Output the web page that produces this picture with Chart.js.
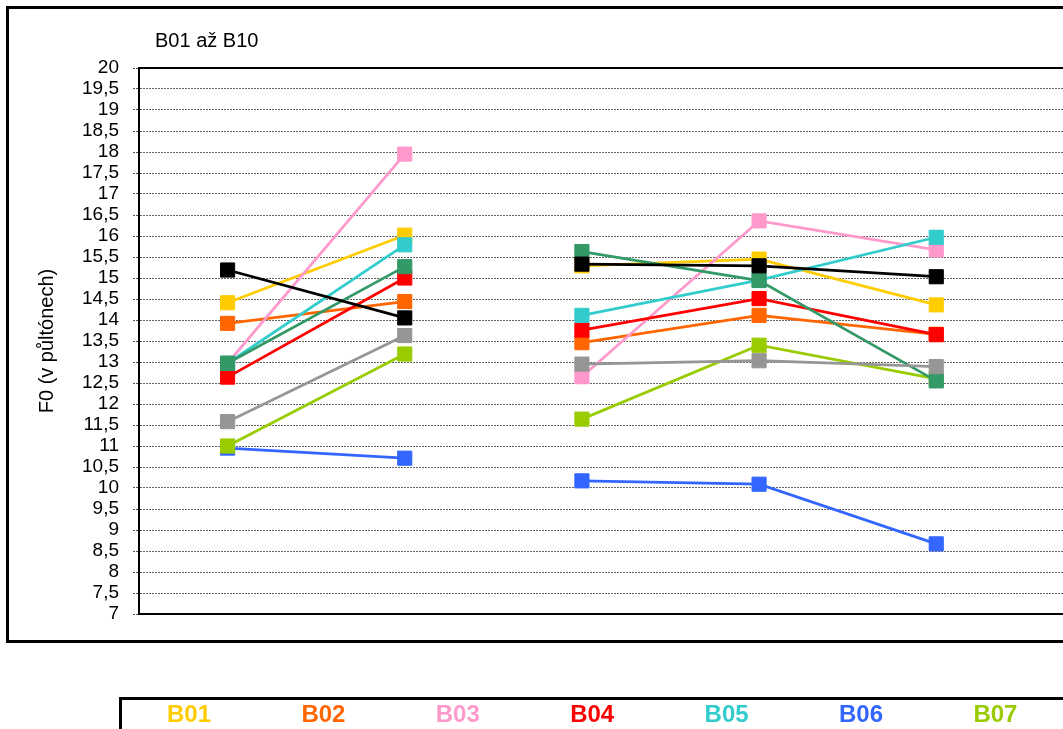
<!DOCTYPE html>
<html>
<head>
<meta charset="utf-8">
<script src="https://cdn.jsdelivr.net/npm/chart.js@4.4.1/dist/chart.umd.min.js"></script>
<style>
  html, body { margin: 0; padding: 0; width: 1063px; height: 729px; overflow: hidden; background: #fff; }
  #frame { position: absolute; left: 6px; top: 6px; width: 1290px; height: 637px; box-sizing: border-box; border: 3px solid #000; }
  #title { position: absolute; left: 155px; top: 30px; font: 20px "Liberation Sans", Arial, sans-serif; line-height: 20px; color: #000; white-space: nowrap; }
  #legendBox { position: absolute; left: 119px; top: 697px; width: 1400px; height: 80px; box-sizing: border-box; border: 3px solid #000; }
  .lg { position: absolute; top: 702px; width: 100px; margin-left: -50px; text-align: center; font: bold 24px "Liberation Sans", Arial, sans-serif; line-height: 24px; white-space: nowrap; }
  #c { position: absolute; left: 0; top: 0; }
</style>
</head>
<body>
<div id="frame"></div>
<canvas id="c" width="1300" height="729"></canvas>
<div id="title">B01 až B10</div>
<div id="legendBox"></div>
<div id="legend"></div>
<script>
const categories = ['1', '2', '3', '4', '5', '6'];
const seriesNames = ['B01', 'B02', 'B03', 'B04', 'B05', 'B06', 'B07', 'B08', 'B09', 'B10'];
const seriesColors = ['#FFCC00', '#FF6600', '#FF99CC', '#FF0000', '#33CCCC', '#3366FF', '#99CC00', '#339966', '#969696', '#000000'];
const B01 = [14.41, 16.02, 15.29, 15.45, 14.36, null];
const B02 = [13.92, 14.44, 13.46, 14.11, 13.66, null];
const B03 = [12.97, 17.95, 12.65, 16.36, 15.67, null];
const B04 = [12.64, 15.0, 13.76, 14.51, 13.65, null];
const B05 = [12.97, 15.79, 14.11, 14.95, 15.97, null];
const B06 = [10.95, 10.71, 10.17, 10.09, 8.67, null];
const B07 = [11.0, 13.19, 11.64, 13.4, 12.6, null];
const B08 = [12.97, 15.27, 15.63, 14.94, 12.55, null];
const B09 = [11.58, 13.63, 12.95, 13.03, 12.89, null];
const B10 = [15.19, 14.05, 15.33, 15.29, 15.03, null];
const seriesValues = [B01, B02, B03, B04, B05, B06, B07, B08, B09, B10];
const yTickMin = 7, yTickMax = 20, yTickStep = 0.5;
const yAxisTitle = 'F0 (v půltónech)';

// legend (HTML text)
const legendEl = document.getElementById('legend');
seriesNames.forEach((n, i) => {
  const d = document.createElement('div');
  d.className = 'lg';
  d.style.left = (189 + 134.4 * i) + 'px';
  d.style.color = seriesColors[i];
  d.textContent = n;
  legendEl.appendChild(d);
});

const FONT = '"Liberation Sans", Arial, sans-serif';

const datasets = seriesValues.map((vals, i) => ({
  label: seriesNames[i],
  data: vals,
  borderColor: seriesColors[i],
  backgroundColor: seriesColors[i],
  borderWidth: 2.75,
  pointStyle: 'rect',
  pointRadius: 10,
  pointBorderWidth: 1,
  pointBorderColor: seriesColors[i],
  pointBackgroundColor: seriesColors[i],
  pointHoverRadius: 10,
  tension: 0,
  order: seriesValues.length - 1 - i,
  segment: {
    borderColor: ctx => ctx.p0DataIndex === 1 ? 'rgba(0,0,0,0)' : undefined
  }
}));

const plotBorder = {
  id: 'plotBorder',
  beforeDatasetsDraw(chart) {
    const a = chart.chartArea, ctx = chart.ctx;
    ctx.save();
    ctx.strokeStyle = '#000';
    ctx.lineWidth = 2;
    ctx.strokeRect(a.left, a.top, a.right - a.left, a.bottom - a.top);
    ctx.restore();
  }
};

new Chart(document.getElementById('c'), {
  type: 'line',
  data: { labels: categories, datasets },
  options: {
    responsive: false,
    animation: false,
    devicePixelRatio: 1,
    layout: { padding: { left: 0, top: 68, right: 98, bottom: 115 } },
    plugins: { legend: { display: false }, tooltip: { enabled: false }, title: { display: false } },
    scales: {
      x: {
        type: 'category',
        offset: true,
        ticks: { display: false },
        grid: { display: false, drawTicks: false },
        border: { display: true, color: '#000', width: 2 },
        afterFit(s) { s.height = 0; }
      },
      y: {
        min: yTickMin,
        max: yTickMax,
        afterFit(s) { s.width = 139; },
        ticks: {
          stepSize: yTickStep,
          autoSkip: false,
          padding: 14,
          color: '#000',
          font: { family: FONT, size: 19, lineHeight: 1 },
          callback: v => String(v).replace('.', ',')
        },
        grid: {
          color: '#666',
          lineWidth: 1,
          tickLength: 6,
          tickColor: '#555',
          tickBorderDash: [2, 1],
          drawTicks: true
        },
        border: { display: true, color: '#000', width: 2, dash: [2, 1] },
        title: {
          display: true,
          text: yAxisTitle,
          color: '#000',
          font: { family: FONT, size: 20 },
          padding: { top: 35, bottom: 0 }
        }
      }
    }
  },
  plugins: [plotBorder]
});
</script>
</body>
</html>
